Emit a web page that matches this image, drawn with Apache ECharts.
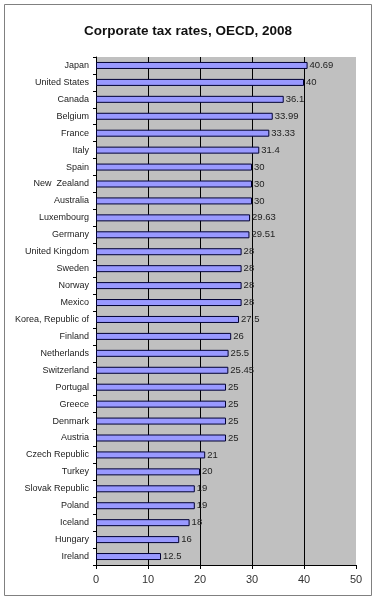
<!DOCTYPE html>
<html>
<head>
<meta charset="utf-8">
<script src="https://cdn.jsdelivr.net/npm/echarts@6/dist/echarts.min.js"></script>
<style>
  html, body { margin: 0; padding: 0; background: #fff; }
  #chart { width: 376px; height: 600px; }
</style>
</head>
<body>
<div id="chart"></div>
<script>
// countries, top to bottom
const countries = [
  'Japan', 'United States', 'Canada', 'Belgium', 'France', 'Italy', 'Spain',
  'New  Zealand', 'Australia', 'Luxembourg', 'Germany', 'United Kingdom', 'Sweden',
  'Norway', 'Mexico', 'Korea, Republic of', 'Finland', 'Netherlands', 'Switzerland',
  'Portugal', 'Greece', 'Denmark', 'Austria', 'Czech Republic', 'Turkey',
  'Slovak Republic', 'Poland', 'Iceland', 'Hungary', 'Ireland'
]
// corporate tax rate, %
const taxRates = [
  40.69, 40, 36.1, 33.99, 33.33, 31.4, 30, 30, 30, 29.63, 29.51, 28, 28,
  28, 28, 27.5, 26, 25.5, 25.45, 25, 25, 25, 25, 21, 20, 19, 19, 18, 16, 12.5
]
const xTicks = { min: 0, max: 50, interval: 10 }

const chart = echarts.init(document.getElementById('chart'))

chart.setOption({
  animation: false,
  backgroundColor: '#fff',
  textStyle: { fontFamily: 'Liberation Sans, Arial, sans-serif' },
  title: {
    text: 'Corporate tax rates, OECD, 2008',
    left: 'center',
    top: 19,
    textStyle: { fontSize: 13.5, fontWeight: 'bold', color: '#111' }
  },
  graphic: [
    {
      type: 'rect',
      shape: { x: 4.5, y: 4.5, width: 367, height: 591 },
      style: { fill: 'none', stroke: '#808080', lineWidth: 1 },
      silent: true
    }
  ],
  grid: {
    left: 96,
    right: 20,
    top: 57,
    bottom: 35,
    show: true,
    backgroundColor: '#C0C0C0',
    borderWidth: 0
  },
  xAxis: {
    type: 'value',
    min: xTicks.min,
    max: xTicks.max,
    interval: xTicks.interval,
    axisLine: { show: true, lineStyle: { color: '#000', width: 1 } },
    axisTick: { show: true, length: 4, lineStyle: { color: '#000' } },
    axisLabel: { fontSize: 11, color: '#333', margin: 9 },
    splitLine: { show: true, showMaxLine: false, lineStyle: { color: '#000', width: 1 } }
  },
  yAxis: {
    type: 'category',
    data: countries,
    inverse: true,
    axisLine: { show: true, lineStyle: { color: '#000', width: 1 } },
    axisTick: { show: true, length: 3, lineStyle: { color: '#000' } },
    axisLabel: { fontSize: 9, color: '#222', margin: 7 }
  },
  series: [
    {
      type: 'bar',
      data: taxRates,
      barWidth: 7,
      itemStyle: { color: '#9999FF', borderColor: '#000033', borderWidth: 1 },
      label: {
        show: true,
        position: 'right',
        distance: 2,
        fontSize: 9.5,
        color: '#222'
      }
    }
  ]
})
</script>
</body>
</html>
